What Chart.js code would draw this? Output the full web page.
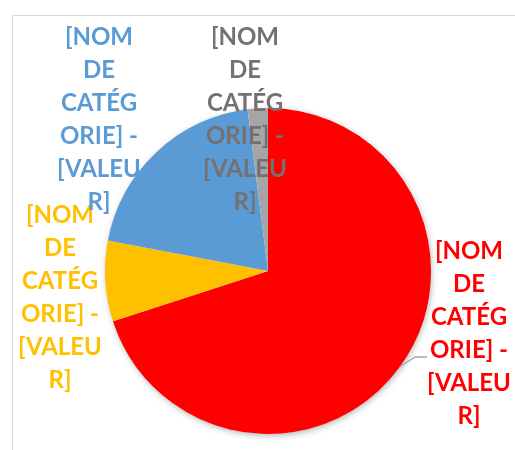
<!DOCTYPE html>
<html>
<head>
<meta charset="utf-8">
<script src="https://cdn.jsdelivr.net/npm/chart.js@4.4.1/dist/chart.umd.min.js"></script>
<style>
  html, body { margin: 0; padding: 0; background: #fff; }
  #wrap { width: 515px; height: 450px; }
</style>
</head>
<body>
<div id="wrap"><canvas id="chart" width="515" height="450"></canvas></div>
<script>
// data
const categories = ['[NOM DE CATÉGORIE] 1', '[NOM DE CATÉGORIE] 2', '[NOM DE CATÉGORIE] 3', '[NOM DE CATÉGORIE] 4'];
const values = [70, 8, 20, 2];
const sliceColors = ['#ff0000', '#ffc000', '#5b9bd5', '#a5a5a5'];
const labelColors = ['#ff0000', '#ffc000', '#5b9bd5', '#767171'];
// Excel-style wrapped data label text
const labelLines = ['[NOM', 'DE', 'CATÉG', 'ORIE] -', '[VALEU', 'R]'];

// where each wrapped label sits (centre x, first baseline y)
const labelSpots = [
  { x: 469, y: 259 },
  { x: 60, y: 223 },
  { x: 99, y: 45 },
  { x: 245, y: 45 }
];

const framePlugin = {
  id: 'frame',
  beforeDraw(chart) {
    const ctx = chart.ctx;
    ctx.save();
    ctx.strokeStyle = '#d9d9d9';
    ctx.lineWidth = 1;
    ctx.beginPath();
    ctx.moveTo(12.5, 450);
    ctx.lineTo(12.5, 15.5);
    ctx.lineTo(515, 15.5);
    ctx.stroke();
    ctx.restore();
  }
};

const shadowPlugin = {
  id: 'pieShadow',
  beforeDatasetsDraw(chart) {
    const arc = chart.getDatasetMeta(0).data[0];
    if (!arc) return;
    const ctx = chart.ctx;
    ctx.save();
    ctx.shadowColor = 'rgba(0,0,0,0.35)';
    ctx.shadowBlur = 7;
    ctx.shadowOffsetX = 1;
    ctx.shadowOffsetY = 2;
    ctx.fillStyle = '#ffffff';
    ctx.beginPath();
    ctx.arc(arc.x, arc.y, arc.outerRadius - 1, 0, Math.PI * 2);
    ctx.fill();
    ctx.restore();
  }
};

const labelPlugin = {
  id: 'wrappedLabels',
  afterDatasetsDraw(chart) {
    const ctx = chart.ctx;
    const meta = chart.getDatasetMeta(0);
    ctx.save();

    // leader line for the big slice, from the middle of its rim
    const red = meta.data[0];
    const a = (red.startAngle + red.endAngle) / 2;
    const r = red.outerRadius;
    ctx.strokeStyle = '#a6a6a6';
    ctx.lineWidth = 1.3;
    ctx.beginPath();
    ctx.moveTo(red.x + Math.cos(a) * r, red.y + Math.sin(a) * r);
    ctx.lineTo(415, 357);
    ctx.lineTo(427, 357);
    ctx.stroke();

    ctx.font = 'bold 24px Lato, "Open Sans", sans-serif';
    ctx.textAlign = 'center';
    ctx.textBaseline = 'alphabetic';
    meta.data.forEach((el, i) => {
      const spot = labelSpots[i];
      ctx.fillStyle = labelColors[i];
      labelLines.forEach((line, j) => {
        ctx.fillText(line, spot.x, spot.y + j * 33);
      });
    });
    ctx.restore();
  }
};

new Chart(document.getElementById('chart'), {
  type: 'pie',
  data: {
    labels: categories,
    datasets: [{
      data: values,
      backgroundColor: sliceColors,
      borderWidth: 0
    }]
  },
  options: {
    responsive: false,
    animation: false,
    layout: {
      padding: { left: 105, right: 84, top: 108, bottom: 16 }
    },
    plugins: {
      legend: { display: false },
      tooltip: { enabled: false }
    }
  },
  plugins: [framePlugin, shadowPlugin, labelPlugin]
});
</script>
</body>
</html>
